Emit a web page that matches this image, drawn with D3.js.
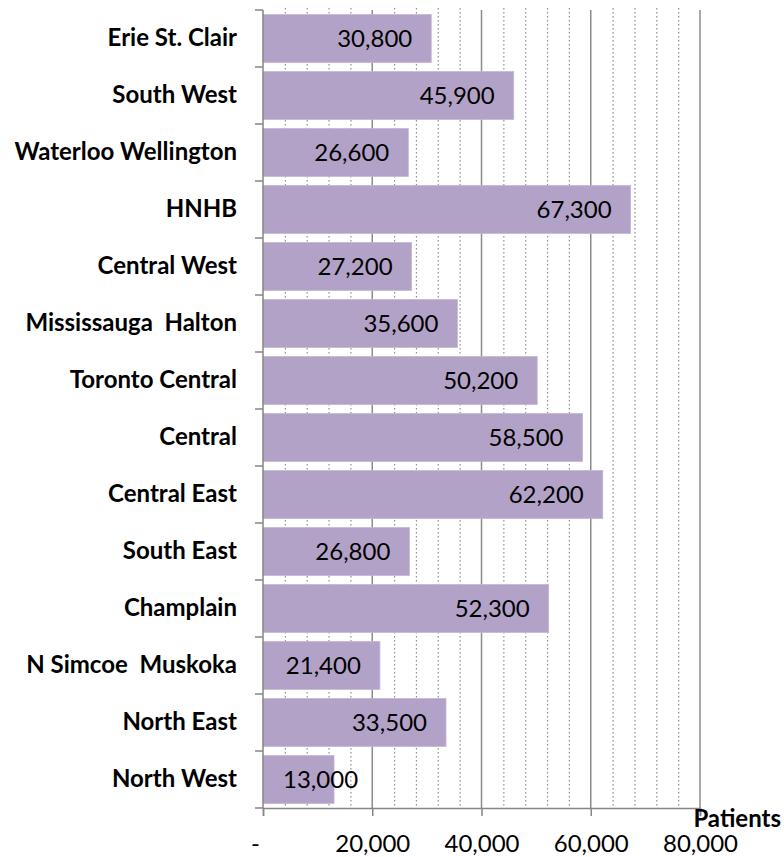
<!DOCTYPE html>
<html>
<head>
<meta charset="utf-8">
<script src="https://cdn.jsdelivr.net/npm/d3@7"></script>
<style>
  html, body { margin: 0; padding: 0; background: #fff; }
  #chart { width: 784px; height: 857px; }
  text { font-family: Lato, "Liberation Sans", sans-serif; white-space: pre; }
</style>
</head>
<body>
<div id="chart"></div>
<script>
// Patients by region
const regions = [
  'Erie St. Clair', 'South West', 'Waterloo Wellington', 'HNHB', 'Central West',
  'Mississauga  Halton', 'Toronto Central', 'Central', 'Central East', 'South East',
  'Champlain', 'N Simcoe  Muskoka', 'North East', 'North West'
];
const patients = [30800, 45900, 26600, 67300, 27200, 35600, 50200, 58500, 62200, 26800, 52300, 21400, 33500, 13000];
const majorTicks = [0, 20000, 40000, 60000, 80000];
const minorStep = 4000;
const axisTitle = 'Patients';

const width = 784, height = 857;
const margin = { top: 10, right: 84, bottom: 49, left: 263 };
const innerW = width - margin.left - margin.right;
const innerH = height - margin.top - margin.bottom;

const svg = d3.select('#chart').append('svg')
  .attr('width', width)
  .attr('height', height);

const g = svg.append('g')
  .attr('transform', `translate(${margin.left},${margin.top})`);

const x = d3.scaleLinear().domain([0, 80000]).range([0, innerW]);
const y = d3.scaleBand().domain(regions).range([0, innerH]).paddingInner(0.16).paddingOuter(0.08);

// Minor dotted gridlines
const minorTicks = d3.range(minorStep, 80000, minorStep).filter(v => v % 20000 !== 0);
g.append('g').selectAll('line')
  .data(minorTicks)
  .join('line')
  .attr('x1', d => x(d) + 0.5).attr('x2', d => x(d) + 0.5)
  .attr('y1', -2).attr('y2', innerH)
  .attr('stroke', '#8f8f8f')
  .attr('stroke-width', 1.2)
  .attr('stroke-dasharray', '1.5,2.5');

// Major solid gridlines
g.append('g').selectAll('line')
  .data(majorTicks.slice(1))
  .join('line')
  .attr('x1', d => x(d)).attr('x2', d => x(d))
  .attr('y1', 0).attr('y2', innerH)
  .attr('stroke', '#8c8c8c')
  .attr('stroke-width', 1.5);

// Bars
g.append('g').selectAll('rect')
  .data(regions)
  .join('rect')
  .attr('x', x(0))
  .attr('y', d => y(d))
  .attr('width', (d, i) => x(patients[i]) - x(0))
  .attr('height', y.bandwidth())
  .attr('fill', '#b3a2c7')
  .attr('stroke', '#c4b6d4')
  .attr('stroke-width', 0.8);

// Value labels: right aligned near the bar end, kept off the axis for short bars
const fmt = d3.format(',');
const labels = g.append('g').selectAll('text')
  .data(regions)
  .join('text')
  .attr('y', d => y(d) + y.bandwidth() / 2)
  .attr('dy', '0.36em')
  .attr('font-size', '24px')
  .attr('fill', '#000')
  .text((d, i) => fmt(patients[i]));

labels.each(function(d, i) {
  const w = this.getComputedTextLength();
  const start = Math.max(x(patients[i]) - 19 - w, x(0) + 20);
  d3.select(this).attr('x', start);
});

// Y axis with category labels
const yAxis = d3.axisLeft(y).tickSize(0).tickPadding(26);
const yAxisG = g.append('g').call(yAxis);
yAxisG.select('.domain').remove();
yAxisG.selectAll('text')
  .attr('font-size', '24px')
  .attr('font-weight', 'bold')
  .attr('fill', '#000')
  .attr('font-family', 'Lato, "Liberation Sans", sans-serif');

// Band boundary ticks on the left axis
const bounds = regions.map(r => y(r) - y.step() * y.paddingInner() / 2);
bounds[0] = 0;
bounds.push(innerH);
g.append('g').selectAll('line')
  .data(bounds)
  .join('line')
  .attr('x1', -8).attr('x2', 0)
  .attr('y1', d => d).attr('y2', d => d)
  .attr('stroke', '#868686')
  .attr('stroke-width', 1.5);

g.append('line')
  .attr('x1', 0).attr('x2', 0)
  .attr('y1', 0).attr('y2', innerH)
  .attr('stroke', '#868686')
  .attr('stroke-width', 1.5);

// X axis
const xAxis = d3.axisBottom(x)
  .tickValues(majorTicks)
  .tickSize(8)
  .tickPadding(19)
  .tickFormat(d => d === 0 ? '-' : fmt(d));

const xAxisG = g.append('g')
  .attr('transform', `translate(0,${innerH})`)
  .call(xAxis);

xAxisG.select('.domain').attr('stroke', '#868686').attr('stroke-width', 1.5);
xAxisG.selectAll('.tick line').attr('stroke', '#868686').attr('stroke-width', 1.5);
xAxisG.selectAll('text')
  .attr('font-size', '24px')
  .attr('fill', '#000')
  .attr('font-family', 'Lato, "Liberation Sans", sans-serif');
xAxisG.selectAll('.tick text').filter(d => d === 0).attr('dx', '-8');

// Axis title
svg.append('text')
  .attr('x', 781)
  .attr('y', 827)
  .attr('text-anchor', 'end')
  .attr('font-size', '24px')
  .attr('font-weight', 'bold')
  .attr('fill', '#000')
  .text(axisTitle);
</script>
</body>
</html>
